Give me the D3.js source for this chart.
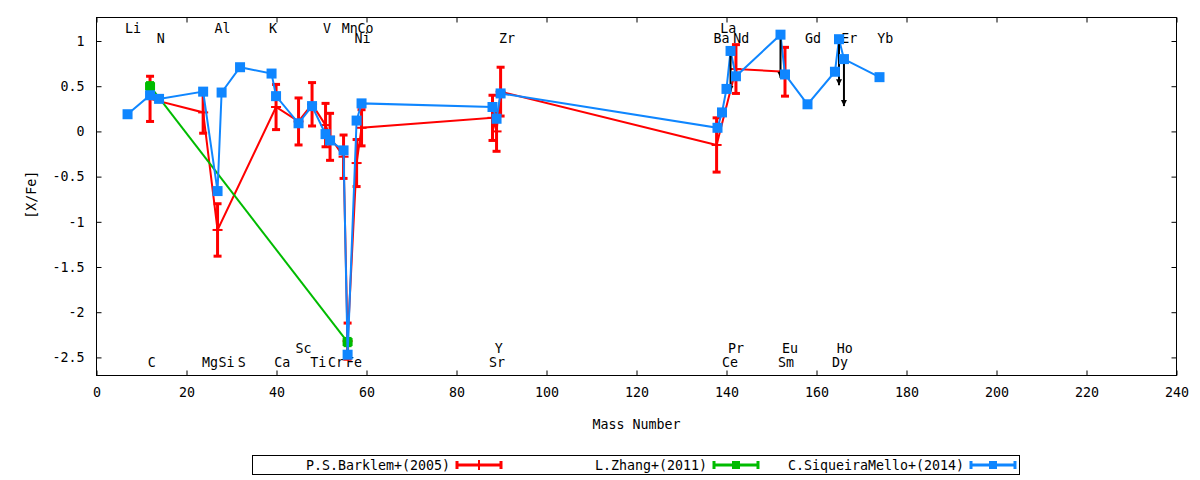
<!DOCTYPE html>
<html>
<head>
<meta charset="utf-8">
<script src="https://cdn.jsdelivr.net/npm/d3@7"></script>
<style>
body { margin: 0; background: #fff; }
text { font-family: "DejaVu Sans Mono", monospace; font-size: 13.3px; fill: #000; }
</style>
</head>
<body>
<script>
// P.S.Barklem+(2005)
var barklemX   = [11.9, 23.7, 26.9, 39.9, 44.9, 47.9, 50.9, 51.9, 54.9, 55.8, 57.8, 58.9, 88.0, 88.9, 89.8, 137.8, 142.1, 153.0];
var barklemY   = [0.36, 0.21, -1.09, 0.27, 0.11, 0.30, 0.07, -0.06, -0.28, -2.32, -0.35, 0.04, 0.15, 0.00, 0.44, -0.15, 0.69, 0.66];
var barklemErr = [0.25, 0.23, 0.29, 0.25, 0.26, 0.24, 0.24, 0.26, 0.24, 0.20, 0.26, 0.20, 0.25, 0.22, 0.27, 0.30, 0.27, 0.27];

// L.Zhang+(2011)
var zhangX   = [11.9, 55.8];
var zhangY   = [0.50, -2.33];
var zhangErr = [0.04, 0.04];

// C.SiqueiraMello+(2014)
var siqX = [6.9, 11.9, 13.9, 23.7, 26.9, 27.8, 31.9, 38.9, 39.9, 44.9, 47.9, 50.9, 51.9, 54.9, 55.8, 57.8, 58.9,
            88.0, 88.9, 89.8, 138.0, 139.0, 140.0, 140.9, 142.1, 152.0, 153.0, 158.0, 164.1, 165.0, 166.1, 174.0];
var siqY = [0.19, 0.40, 0.36, 0.44, -0.66, 0.43, 0.71, 0.64, 0.39, 0.09, 0.28, -0.03, -0.10, -0.21, -2.47, 0.12, 0.31,
            0.27, 0.14, 0.42, 0.04, 0.21, 0.47, 0.89, 0.61, 1.07, 0.63, 0.30, 0.66, 1.02, 0.80, 0.60];

// upper limits (arrows) of the SiqueiraMello points
var limitX    = [140.9, 152.0, 165.0, 166.1];
var limitFrom = [0.89, 1.07, 1.02, 0.80];
var limitTo   = [0.44, 0.59, 0.51, 0.28];

// element labels
var elemNames = ["Li","Al","K","V","Mn","Co","La",
                 "N","Ni","Zr","Ba","Nd","Gd","Er","Yb",
                 "Sc","Y","Pr","Eu","Ho",
                 "C","Mg","Si","S","Ca","Ti","Cr","Fe","Sr","Ce","Sm","Dy"];
var elemX = [8.1, 28.0, 39.2, 51.2, 56.3, 59.8, 140.4,
             14.3, 59.1, 91.2, 138.9, 143.3, 159.2, 167.3, 175.3,
             46.0, 89.4, 142.1, 154.1, 166.3,
             12.3, 25.2, 28.9, 32.3, 41.3, 49.3, 53.2, 57.2, 89.0, 140.8, 153.2, 165.2];
var elemY = [1.145, 1.145, 1.145, 1.145, 1.145, 1.145, 1.145,
             1.034, 1.034, 1.034, 1.034, 1.034, 1.034, 1.034, 1.034,
             -2.405, -2.405, -2.405, -2.405, -2.405,
             -2.56, -2.56, -2.56, -2.56, -2.56, -2.56, -2.56, -2.56, -2.56, -2.56, -2.56, -2.56];

var xTicks = d3.range(0, 241, 20);
var yTicks = [-2.5, -2, -1.5, -1, -0.5, 0, 0.5, 1];
var legendNames = ["P.S.Barklem+(2005)", "L.Zhang+(2011)", "C.SiqueiraMello+(2014)"];

var margin = {top: 17.5, right: 23.5, bottom: 104.5, left: 96.5},
    width = 1200 - margin.left - margin.right,
    height = 480 - margin.top - margin.bottom;

var red = "#ff0000", green = "#00bb00", blue = "#0f86ff";

var x = d3.scaleLinear().domain([0, 240]).range([0, width]);
var y = d3.scaleLinear().domain([-2.7, 1.26]).range([height, 0]);

var svg = d3.select("body").append("svg")
    .attr("width", 1200)
    .attr("height", 480);

var g = svg.append("g")
    .attr("transform", "translate(" + margin.left + "," + margin.top + ")");

// axes (ticks inside, mirrored)
g.append("g")
    .attr("transform", "translate(0," + height + ")")
    .call(d3.axisBottom(x).tickValues(xTicks).tickSize(-5).tickPadding(12).tickFormat(d3.format("d")))
    .call(function(s){ s.select(".domain").remove(); });
g.append("g")
    .call(d3.axisTop(x).tickValues(xTicks).tickSize(-5).tickFormat(""))
    .call(function(s){ s.select(".domain").remove(); });
g.append("g")
    .call(d3.axisLeft(y).tickValues(yTicks).tickSize(-5).tickPadding(12).tickFormat(function(d){ return d; }))
    .call(function(s){ s.select(".domain").remove(); });
g.append("g")
    .attr("transform", "translate(" + width + ",0)")
    .call(d3.axisRight(y).tickValues(yTicks).tickSize(-5).tickFormat(""))
    .call(function(s){ s.select(".domain").remove(); });
g.selectAll(".tick text").style("font-family", "'DejaVu Sans Mono', monospace").style("font-size", "13.3px");
g.selectAll(".tick line").attr("stroke", "#000");

g.append("rect")
    .attr("width", width).attr("height", height)
    .attr("fill", "none").attr("stroke", "#000").attr("stroke-width", 1);

// axis titles
svg.append("text")
    .attr("x", margin.left + width / 2).attr("y", 429)
    .attr("text-anchor", "middle")
    .text("Mass Number");
svg.append("text")
    .attr("transform", "translate(36," + (margin.top + y(-0.7)) + ") rotate(-90)")
    .attr("text-anchor", "middle")
    .text("[X/Fe]");

// element labels
g.selectAll(".elem")
    .data(elemNames).enter()
    .append("text")
    .attr("class", "elem")
    .attr("x", function(d, i){ return x(elemX[i]); })
    .attr("y", function(d, i){ return y(elemY[i]); })
    .attr("dy", "0.35em")
    .attr("text-anchor", "middle")
    .text(function(d){ return d; });

var line = d3.line()
    .x(function(d){ return x(d[0]); })
    .y(function(d){ return y(d[1]); });

function errorSeries(xs, ys, es, color){
    var pts = xs.map(function(v, i){ return [v, ys[i], es[i]]; });
    g.append("path")
        .attr("d", line(pts))
        .attr("fill", "none").attr("stroke", color).attr("stroke-width", 2);
    var bars = g.append("g").attr("stroke", color).attr("stroke-width", 3);
    bars.selectAll(".bar").data(pts).enter().append("line")
        .attr("x1", function(d){ return x(d[0]); }).attr("x2", function(d){ return x(d[0]); })
        .attr("y1", function(d){ return y(d[1] + d[2]); }).attr("y2", function(d){ return y(d[1] - d[2]); });
    bars.selectAll(".capt").data(pts).enter().append("line")
        .attr("x1", function(d){ return x(d[0]) - 4; }).attr("x2", function(d){ return x(d[0]) + 4; })
        .attr("y1", function(d){ return y(d[1] + d[2]); }).attr("y2", function(d){ return y(d[1] + d[2]); });
    bars.selectAll(".capb").data(pts).enter().append("line")
        .attr("x1", function(d){ return x(d[0]) - 4; }).attr("x2", function(d){ return x(d[0]) + 4; })
        .attr("y1", function(d){ return y(d[1] - d[2]); }).attr("y2", function(d){ return y(d[1] - d[2]); });
    return pts;
}

// Barklem: error lines with plus markers
var bPts = errorSeries(barklemX, barklemY, barklemErr, red);
g.append("g").attr("stroke", red).attr("stroke-width", 2)
    .selectAll("line").data(bPts).enter().append("line")
    .attr("x1", function(d){ return x(d[0]) - 5; }).attr("x2", function(d){ return x(d[0]) + 5; })
    .attr("y1", function(d){ return y(d[1]); }).attr("y2", function(d){ return y(d[1]); });

// Zhang: error lines with small squares
var zPts = errorSeries(zhangX, zhangY, zhangErr, green);
g.selectAll(".zsq").data(zPts).enter().append("rect")
    .attr("x", function(d){ return x(d[0]) - 5; })
    .attr("y", function(d){ return y(d[1]) - 4; })
    .attr("width", 10).attr("height", 8)
    .attr("fill", green);

// SiqueiraMello: line, arrows, squares
var sPts = siqX.map(function(v, i){ return [v, siqY[i]]; });
g.append("path")
    .attr("d", line(sPts))
    .attr("fill", "none").attr("stroke", blue).attr("stroke-width", 2);

svg.append("defs").append("marker")
    .attr("id", "arr")
    .attr("viewBox", "0 0 10 10")
    .attr("refX", 10).attr("refY", 5)
    .attr("markerWidth", 6).attr("markerHeight", 8)
    .attr("markerUnits", "userSpaceOnUse")
    .attr("orient", "auto")
    .append("path")
    .attr("d", "M0,0 L10,5 L0,10 Z")
    .attr("fill", "#000");

g.selectAll(".lim").data(limitX).enter().append("line")
    .attr("x1", function(d){ return x(d); }).attr("x2", function(d){ return x(d); })
    .attr("y1", function(d, i){ return y(limitFrom[i]); })
    .attr("y2", function(d, i){ return y(limitTo[i]); })
    .attr("stroke", "#000").attr("stroke-width", 2)
    .attr("marker-end", "url(#arr)");

g.selectAll(".sq").data(sPts).enter().append("rect")
    .attr("x", function(d){ return x(d[0]) - 5; })
    .attr("y", function(d){ return y(d[1]) - 5; })
    .attr("width", 10).attr("height", 10)
    .attr("fill", blue);

// legend
var legend = svg.append("g");
legend.append("rect")
    .attr("x", 252.5).attr("y", 455.5).attr("width", 767).attr("height", 19)
    .attr("fill", "#fff").attr("stroke", "#000").attr("stroke-width", 1);

var legColors = [red, green, blue];
var legTextEnd = [450, 707, 964];
legendNames.forEach(function(name, i){
    var x0 = legTextEnd[i] + 7, x1 = x0 + 44, yc = 465;
    legend.append("text")
        .attr("x", legTextEnd[i]).attr("y", yc).attr("dy", "0.35em")
        .attr("text-anchor", "end").text(name);
    legend.append("line").attr("x1", x0).attr("x2", x1).attr("y1", yc).attr("y2", yc)
        .attr("stroke", legColors[i]).attr("stroke-width", 3);
    [x0, x1].forEach(function(cx){
        legend.append("line").attr("x1", cx).attr("x2", cx).attr("y1", yc - 4).attr("y2", yc + 4)
            .attr("stroke", legColors[i]).attr("stroke-width", 3);
    });
    var mx = (x0 + x1) / 2;
    if (i == 0) {
        legend.append("line").attr("x1", mx).attr("x2", mx).attr("y1", yc - 5).attr("y2", yc + 5)
            .attr("stroke", red).attr("stroke-width", 2);
    } else {
        legend.append("rect").attr("x", mx - 4).attr("y", yc - 4).attr("width", 8).attr("height", 8)
            .attr("fill", legColors[i]);
    }
});
</script>
</body>
</html>
